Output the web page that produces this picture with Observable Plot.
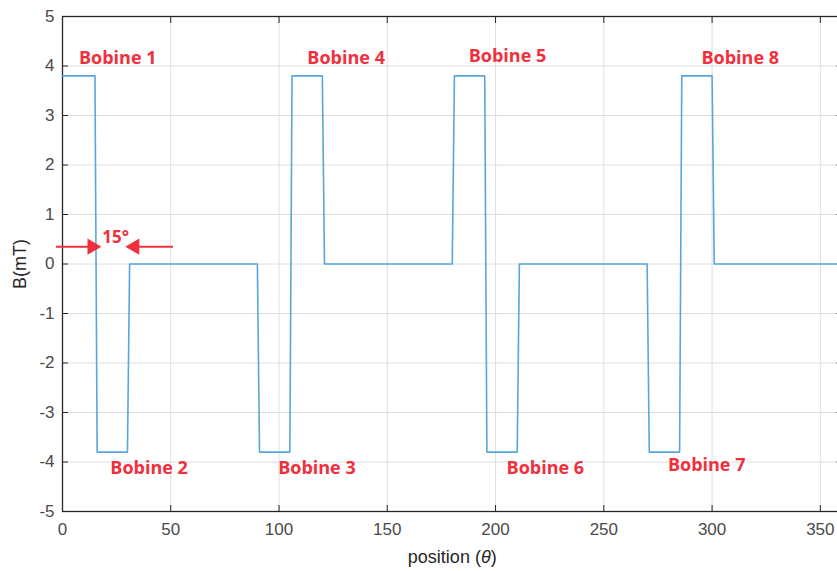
<!DOCTYPE html>
<html><head><meta charset="utf-8">
<script src="https://cdn.jsdelivr.net/npm/d3@7"></script>
<script src="https://cdn.jsdelivr.net/npm/@observablehq/plot@0.6"></script>
<style>html,body{margin:0;padding:0;background:#fff;overflow:hidden}</style>
</head><body><div id="chart"></div>
<script>
// Signal: position (degrees) and B (mT)
const theta = [0,15,16,30,31,90,91,105,106,120,121,180,181,195,196,210,211,270,271,285,286,300,301,360];
const B     = [3.8,3.8,-3.8,-3.8,0,0,-3.8,-3.8,3.8,3.8,0,0,3.8,3.8,-3.8,-3.8,0,0,-3.8,-3.8,3.8,3.8,0,0];

// Coil annotations
const bobineNames = ["Bobine 1","Bobine 2","Bobine 3","Bobine 4","Bobine 5","Bobine 6","Bobine 7","Bobine 8"];
const bobineX     = [25.5, 40, 117.5, 131, 205.5, 223, 297.5, 313];
const bobineY     = [4.15, -4.12, -4.12, 4.15, 4.2, -4.12, -4.07, 4.15];

// 15° dimension arrows
const arrowFrom = [-3, 51];
const arrowTo   = [16, 31];
const arrowY    = [0.35, 0.35];
const angleText = ["15°"];
const angleX    = [24.5];
const angleY    = [0.53];

const xTicks = [0,50,100,150,200,250,300,350];
const yTicks = [-5,-4,-3,-2,-1,0,1,2,3,4,5];

const signal = theta.map((t, i) => ({theta: t, B: B[i]}));
const labels = bobineNames.map((n, i) => ({name: n, x: bobineX[i], y: bobineY[i]}));
const arrows = arrowFrom.map((a, i) => ({x1: a, x2: arrowTo[i], y: arrowY[i]}));
const angle = angleText.map((t, i) => ({t, x: angleX[i], y: angleY[i]}));

const red = "#f0303c";
const axisColor = "#262626";
const tickText = "#4a4a4a";

const chart = Plot.plot({
  width: 837,
  height: 571,
  marginLeft: 62,
  marginRight: -4.5,
  marginTop: 16,
  marginBottom: 60,
  style: {fontFamily: "Liberation Sans, Arial, sans-serif", fontSize: "17px", color: tickText, background: "#fff"},
  x: {domain: [0, 360]},
  y: {domain: [-5, 5]},
  marks: [
    Plot.gridX(xTicks, {stroke: "#dedede", strokeOpacity: 1, strokeWidth: 1}),
    Plot.gridY(yTicks, {stroke: "#dedede", strokeOpacity: 1, strokeWidth: 1}),
    Plot.axisX(xTicks, {anchor: "bottom", tickSize: 0, tickPadding: 11, tickFormat: d => `${d}`, label: null, fill: tickText, fontSize: 17}),
    Plot.axisY(yTicks, {anchor: "left", tickSize: 0, tickPadding: 8, tickFormat: d => `${d}`, label: null, fill: tickText, fontSize: 17}),
    Plot.axisX(xTicks, {anchor: "bottom", tickSize: -6, tickFormat: () => "", label: null, stroke: axisColor}),
    Plot.axisX(xTicks, {anchor: "top", tickSize: -6, tickFormat: () => "", label: null, stroke: axisColor}),
    Plot.axisY(yTicks, {anchor: "left", tickSize: -6, tickFormat: () => "", label: null, stroke: axisColor}),
    Plot.axisY(yTicks, {anchor: "right", tickSize: -6, tickFormat: () => "", label: null, stroke: axisColor}),
    Plot.frame({stroke: axisColor, strokeWidth: 1.3}),
    Plot.line(signal, {x: "theta", y: "B", stroke: "#5aa6dc", strokeWidth: 1.6}),
    Plot.text(labels, {x: "x", y: "y", text: "name", fill: red, fontWeight: "bold", fontSize: 18, fontFamily: "Open Sans, sans-serif"}),
    Plot.link(arrows, {x1: "x1", x2: "x2", y1: "y", y2: "y", stroke: red, strokeWidth: 2}),
    Plot.dot(arrows.slice(0, 1), {x: "x2", y: "y", symbol: "triangle", r: 6, fill: red, stroke: null, rotate: 90, dx: -5}),
    Plot.dot(arrows.slice(1), {x: "x2", y: "y", symbol: "triangle", r: 6, fill: red, stroke: null, rotate: -90, dx: 5}),
    Plot.text(angle, {x: "x", y: "y", text: "t", fill: red, fontWeight: "bold", fontSize: 17, fontFamily: "Open Sans, sans-serif"}),
    Plot.text(["B(mT)"], {frameAnchor: "left", textAnchor: "middle", lineAnchor: "middle", dx: -42, rotate: -90, fontSize: 18, fill: "#262626"}),
    Plot.text(["position (θ)"], {frameAnchor: "bottom", lineAnchor: "middle", textAnchor: "middle", dy: 46, fontSize: 18, fill: "#262626"})
  ]
});
document.getElementById("chart").appendChild(chart);
// italicize theta in x label
chart.querySelectorAll("text").forEach(t => {
  if (t.textContent === "position (θ)") {
    t.textContent = "";
    const a = document.createElementNS("http://www.w3.org/2000/svg", "tspan");
    a.textContent = "position (";
    const b = document.createElementNS("http://www.w3.org/2000/svg", "tspan");
    b.textContent = "θ"; b.setAttribute("font-style", "italic");
    const c = document.createElementNS("http://www.w3.org/2000/svg", "tspan");
    c.textContent = ")";
    t.append(a, b, c);
  }
});
</script>
</body></html>
